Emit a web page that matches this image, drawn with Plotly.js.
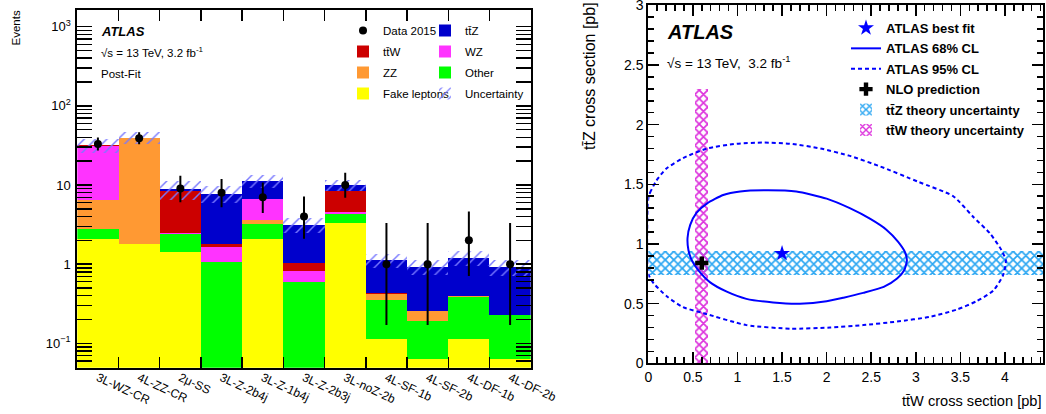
<!DOCTYPE html>
<html><head><meta charset="utf-8">
<script src="https://cdn.plot.ly/plotly-3.0.1.min.js"></script>
<style>html,body{margin:0;padding:0;background:#fff}</style>
</head><body><div id="chart" style="width:1046px;height:414px"></div>
<script>
// ---------- Left panel: post-fit yields ----------
const regions = ['3L-WZ-CR','4L-ZZ-CR','2\u03bc-SS','3L-Z-2b4j','3L-Z-1b4j','3L-Z-2b3j','3L-noZ-2b','4L-SF-1b','4L-SF-2b','4L-DF-1b','4L-DF-2b'];
const fakeLeptons = [2.1, 1.79, 1.44, 0.0, 2.1, 0.0, 3.35, 0.113, 0.063, 0.113, 0.064];
const other       = [0.7, 0.02, 0.97, 1.08, 1.15, 0.59, 1.0, 0.237, 0.127, 0.272, 0.164];
const zz          = [3.7, 37.8, 0.0, 0.0, 0.4, 0.0, 0.0, 0.066, 0.064, 0.015, 0.0];
const wz          = [25.0, 0.0, 0.09, 0.56, 3.05, 0.24, 0.15, 0.0, 0.0, 0.0, 0.0];
const ttW         = [0.2, 0.0, 5.95, 0.18, 0.05, 0.2, 3.95, 0.014, 0.0, 0.0, 0.0];
const ttZ         = [0.3, 0.05, 0.51, 5.93, 4.55, 2.13, 1.55, 0.70, 0.68, 0.80, 0.69];
const relUncertainty = [0.2, 0.17, 0.27, 0.24, 0.18, 0.22, 0.17, 0.2, 0.22, 0.22, 0.22];
const data2015    = [33, 39, 9, 8, 7, 4, 10, 1, 1, 2, 1];
const dataErrUp   = [6.8, 7.3, 4.11, 3.95, 3.77, 3.16, 4.26, 2.30, 2.30, 2.64, 2.30];
const dataErrDown = [5.7, 6.2, 2.94, 2.77, 2.58, 1.91, 3.11, 0.83, 0.83, 1.29, 0.83];
const yTickVals = [0.1, 1, 10, 100, 1000];
const yTickText = ['10<sup>\u22121</sup>', '1', '10', '10<sup>2</sup>', '10<sup>3</sup>'];

// ---------- Right panel: ttW / ttZ cross sections ----------
const bestFitW = [1.5], bestFitZ = [0.92];
const nloW = [0.60], nloZ = [0.84];
const ttZTheoryBand = [0.74, 0.94];
const ttWTheoryBand = [0.52, 0.67];
const ttWBandTop = 2.3;
const cl68W = [0.44,0.47,0.54,0.66,0.84,1.03,1.33,1.66,2.0,2.26,2.49,2.67,2.80,2.88,2.90,2.87,2.79,2.64,2.41,2.19,2.0,1.70,1.40,1.10,0.88,0.69,0.56,0.49,0.45,0.44];
const cl68Z = [1.05,1.16,1.26,1.34,1.41,1.44,1.45,1.44,1.38,1.30,1.21,1.12,1.02,0.93,0.86,0.78,0.71,0.64,0.59,0.55,0.52,0.50,0.51,0.54,0.60,0.68,0.78,0.86,0.95,1.05];
const cl95W = [0.0,0.02,0.09,0.2,0.39,0.66,0.99,1.29,1.59,1.93,2.25,2.6,3.03,3.42,3.64,3.83,3.96,4.01,3.98,3.87,3.68,3.46,3.16,2.79,2.41,2.04,1.6,1.1,0.62,0.39,0.21,0.06,0.0,0.0];
const cl95Z = [1.38,1.43,1.53,1.63,1.72,1.80,1.84,1.85,1.84,1.80,1.74,1.65,1.52,1.40,1.23,1.09,0.95,0.86,0.74,0.61,0.52,0.45,0.39,0.35,0.32,0.30,0.29,0.32,0.42,0.47,0.56,0.67,0.75,1.38];

const FONT = 'Liberation Sans, Arial, Helvetica, sans-serif';
const W = 1046, H = 414;
const px = v => v / W, py = v => 1 - v / H;

const centers = regions.map((_, i) => i + 0.5);
const edges = regions.map((_, i) => i).concat([regions.length]);
const totals = centers.map((_, i) => fakeLeptons[i] + other[i] + zz[i] + wz[i] + ttW[i] + ttZ[i]);

function stackBar(name, vals, color, legend, rank) {
  return {type: 'bar', x: centers, y: vals, width: centers.map(() => 1), name: name,
    marker: {color: color, line: {width: 0}}, xaxis: 'x', yaxis: 'y',
    legend: legend, legendrank: rank, legendgroup: name, hoverinfo: 'y'};
}

const traces = [
  stackBar('Fake leptons', fakeLeptons, '#ffff00', 'legend', 4),
  stackBar('Other', other, '#00ff00', 'legend2', 3),
  stackBar('ZZ', zz, '#ff9933', 'legend', 3),
  stackBar('WZ', wz, '#ff33ff', 'legend2', 2),
  stackBar('t\u0074\u0304W', ttW, '#cc0000', 'legend', 2),
  stackBar('t\u0074\u0304Z', ttZ, '#0000cc', 'legend2', 1),
  {type: 'bar', x: centers, y: totals.map((t, i) => 2 * t * relUncertainty[i]),
   base: totals.map((t, i) => t * (1 - relUncertainty[i])), width: centers.map(() => 1),
   name: 'Uncertainty', xaxis: 'x', yaxis: 'y', legend: 'legend2', legendrank: 4, legendgroup: 'unc',
   marker: {color: 'rgba(0,0,0,0)', line: {width: 0},
     pattern: {shape: '/', fgcolor: '#7878ff', bgcolor: 'rgba(0,0,0,0)', size: 8, solidity: 0.18}}},
  {type: 'scatter', mode: 'markers', x: centers, y: data2015, name: 'Data 2015',
   xaxis: 'x', yaxis: 'y', legend: 'legend', legendrank: 1, legendgroup: 'data',
   marker: {color: '#000', size: 8},
   error_y: {type: 'data', symmetric: false, array: dataErrUp, arrayminus: dataErrDown,
     color: '#000', thickness: 2, width: 0}},
  // invisible carrier so that the region-label axis is drawn
  {type: 'scatter', mode: 'markers', x: centers, y: data2015, xaxis: 'x3', yaxis: 'y',
   marker: {opacity: 0, size: 1}, showlegend: false, hoverinfo: 'skip'},

  // right panel
  {type: 'bar', orientation: 'h', y: [(ttZTheoryBand[0] + ttZTheoryBand[1]) / 2],
   x: [4.43], base: [0], width: [ttZTheoryBand[1] - ttZTheoryBand[0]],
   name: 't\u0074\u0304Z theory uncertainty', xaxis: 'x2', yaxis: 'y2',
   legend: 'legend3', legendrank: 5, legendgroup: 'zb',
   marker: {color: 'rgba(0,0,0,0)', line: {width: 0},
     pattern: {shape: 'x', fgcolor: '#2aa6f2', bgcolor: 'rgba(0,0,0,0)', size: 6, solidity: 0.5}}},
  {type: 'bar', x: [(ttWTheoryBand[0] + ttWTheoryBand[1]) / 2], y: [ttWBandTop], base: [0],
   width: [ttWTheoryBand[1] - ttWTheoryBand[0]],
   name: 't\u0074\u0304W theory uncertainty', xaxis: 'x2', yaxis: 'y2',
   legend: 'legend3', legendrank: 6, legendgroup: 'wb',
   marker: {color: 'rgba(0,0,0,0)', line: {width: 0},
     pattern: {shape: 'x', fgcolor: '#dd33dd', bgcolor: 'rgba(0,0,0,0)', size: 6, solidity: 0.5}}},
  {type: 'scatter', mode: 'lines', x: cl95W, y: cl95Z, name: 'ATLAS 95% CL',
   xaxis: 'x2', yaxis: 'y2', legend: 'legend3', legendrank: 3, legendgroup: 'c95',
   line: {color: '#0000ff', width: 2, dash: '4px,3px', shape: 'spline', smoothing: 0.6}},
  {type: 'scatter', mode: 'lines', x: cl68W, y: cl68Z, name: 'ATLAS 68% CL',
   xaxis: 'x2', yaxis: 'y2', legend: 'legend3', legendrank: 2, legendgroup: 'c68',
   line: {color: '#0000ff', width: 2, shape: 'spline', smoothing: 0.6}},
  {type: 'scatter', mode: 'markers', x: nloW, y: nloZ, name: 'NLO prediction',
   xaxis: 'x2', yaxis: 'y2', legend: 'legend3', legendrank: 4, legendgroup: 'nlo',
   marker: {symbol: 'cross', color: '#000', size: 11}},
  {type: 'scatter', mode: 'markers', x: bestFitW, y: bestFitZ, name: 'ATLAS best fit',
   xaxis: 'x2', yaxis: 'y2', legend: 'legend3', legendrank: 1, legendgroup: 'bf',
   marker: {symbol: 'star', color: '#0000ff', size: 12}}
];

const minorLog = [];
[0.01, 0.1, 1, 10, 100, 1000].forEach(d => { for (let k = 2; k <= 9; k++) minorLog.push(k * d); });

const frame = {showline: true, linecolor: '#000', linewidth: 2, mirror: 'allticks',
  showgrid: false, zeroline: false, ticks: 'inside', tickcolor: '#000', tickwidth: 1.5,
  ticklabeloverflow: 'allow'};

const legendBase = {bgcolor: 'rgba(0,0,0,0)', borderwidth: 0, xanchor: 'left', yanchor: 'top',
  traceorder: 'grouped', itemwidth: 30};

const layout = {
  width: W, height: H, margin: {l: 0, r: 0, t: 0, b: 0},
  paper_bgcolor: '#fff', plot_bgcolor: '#fff',
  font: {family: FONT, color: '#000', size: 12},
  barmode: 'stack', bargap: 0, showlegend: true,
  xaxis: Object.assign({}, frame, {domain: [px(77.3), px(530.7)], range: [0, regions.length],
    anchor: 'y', tickmode: 'array', tickvals: edges, ticklen: 11, showticklabels: false}),
  xaxis3: {overlaying: 'x', anchor: 'y', side: 'bottom', range: [0, regions.length],
    tickmode: 'array', tickvals: centers, ticktext: regions, ticks: '', showline: false,
    showgrid: false, zeroline: false, tickangle: 25, ticklabelstandoff: 0,
    tickfont: {size: 12, family: FONT}},
  yaxis: Object.assign({}, frame, {domain: [1 - 367.7 / H, 1 - 10.3 / H], type: 'log',
    range: [-1.308, 3.207], anchor: 'x', tickmode: 'array', tickvals: yTickVals, ticktext: yTickText,
    ticklen: 15, tickfont: {size: 13}, ticklabelstandoff: 2,
    minor: {tickmode: 'array', tickvals: minorLog, ticks: 'inside', ticklen: 8, tickcolor: '#000', tickwidth: 1.5}}),
  xaxis2: Object.assign({}, frame, {domain: [px(648.3), px(1043.3)], range: [0, 4.43], anchor: 'y2',
    tickmode: 'linear', tick0: 0, dtick: 0.5, ticklen: 11, tickfont: {size: 14},
    minor: {dtick: 0.1, ticks: 'inside', ticklen: 6, tickcolor: '#000', tickwidth: 1.5}}),
  yaxis2: Object.assign({}, frame, {domain: [1 - 363.3 / H, 1 - 5.3 / H], range: [0, 3], anchor: 'x2',
    tickmode: 'linear', tick0: 0, dtick: 0.5, ticklen: 11, tickfont: {size: 14},
    minor: {dtick: 0.1, ticks: 'inside', ticklen: 6, tickcolor: '#000', tickwidth: 1.5}}),
  legend: Object.assign({}, legendBase, {x: px(343), y: py(16), font: {size: 11.5, family: FONT}, tracegroupgap: 2}),
  legend2: Object.assign({}, legendBase, {x: px(425), y: py(16), font: {size: 11.5, family: FONT}, tracegroupgap: 2}),
  legend3: Object.assign({}, legendBase, {x: px(846), y: py(13), font: {size: 13, family: FONT, weight: 'bold'}, tracegroupgap: 0.5}),
  annotations: [
    {text: '<b><i>ATLAS</i></b>', x: px(99), y: py(31), xref: 'paper', yref: 'paper',
     xanchor: 'left', yanchor: 'middle', showarrow: false, font: {size: 13}},
    {text: '\u221as = 13 TeV, 3.2 fb<sup>-1</sup>', x: px(99), y: py(52), xref: 'paper', yref: 'paper',
     xanchor: 'left', yanchor: 'middle', showarrow: false, font: {size: 11.5}},
    {text: 'Post-Fit', x: px(99), y: py(74), xref: 'paper', yref: 'paper',
     xanchor: 'left', yanchor: 'middle', showarrow: false, font: {size: 11.5}},
    {text: 'Events', x: px(16), y: py(9), xref: 'paper', yref: 'paper', textangle: -90,
     xanchor: 'center', yanchor: 'top', showarrow: false, font: {size: 11.5}},
    {text: '<b><i>ATLAS</i></b>', x: px(665), y: py(32), xref: 'paper', yref: 'paper',
     xanchor: 'left', yanchor: 'middle', showarrow: false, font: {size: 20}},
    {text: '\u221as = 13 TeV,  3.2 fb<sup>-1</sup>', x: px(665), y: py(62), xref: 'paper', yref: 'paper',
     xanchor: 'left', yanchor: 'middle', showarrow: false, font: {size: 13.5}},
    {text: 't\u0074\u0304Z cross section [pb]', x: px(589), y: py(0), xref: 'paper', yref: 'paper', textangle: -90,
     xanchor: 'center', yanchor: 'top', showarrow: false, font: {size: 16}},
    {text: 't\u0074\u0304W cross section [pb]', x: px(1044), y: py(401), xref: 'paper', yref: 'paper',
     xanchor: 'right', yanchor: 'middle', showarrow: false, font: {size: 14.6}}
  ]
};

Plotly.newPlot('chart', traces, layout, {staticPlot: true, displayModeBar: false});
</script>
</body></html>
